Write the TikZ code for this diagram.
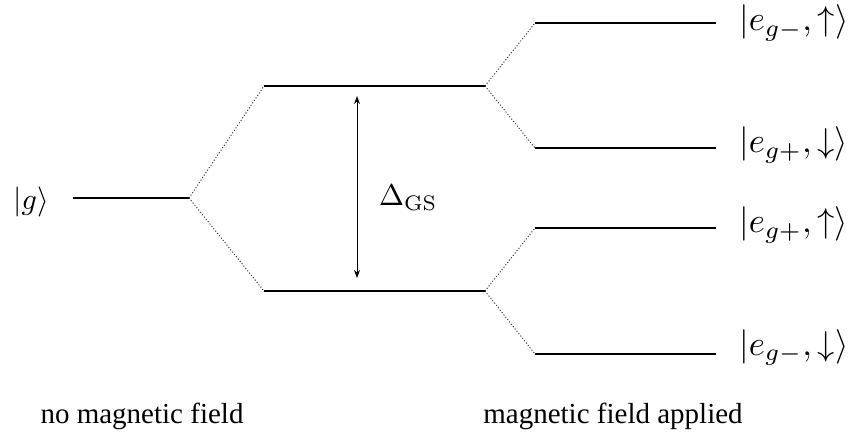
\documentclass[tikz,border=0pt]{standalone}
\usepackage[no-math]{fontspec}
\setmainfont{Liberation Serif}
\usepackage{graphicx}
\usetikzlibrary{arrows.meta}
\newcommand{\bigmath}[1]{\scalebox{3}{$#1$}}
\newcommand{\hugemath}[1]{\scalebox{3.45}{$#1$}}
\begin{document}
\begin{tikzpicture}[x=1pt,y=-1pt,
  level/.style={line width=2.6pt},
  split/.style={line width=1pt, dotted, black!80},
  gap/.style={line width=1pt, {Stealth[length=8pt,width=6pt]}-{Stealth[length=8pt,width=6pt]}},
  statelab/.style={anchor=base west, inner sep=0pt},
  caption/.style={anchor=base, inner sep=0pt, font=\fontsize{29}{34}\selectfont}]
\useasboundingbox (0,0) rectangle (848,435);
% ground level
\coordinate (gL) at (73,198);
\coordinate (gR) at (189,198);
% split levels
\coordinate (uL) at (264,86);
\coordinate (uR) at (485,86);
\coordinate (lL) at (264,291);
\coordinate (lR) at (485,291);
% Zeeman levels
\coordinate (aL) at (535,23);  \coordinate (aR) at (716,23);
\coordinate (bL) at (535,148); \coordinate (bR) at (716,148);
\coordinate (cL) at (535,228); \coordinate (cR) at (716,228);
\coordinate (dL) at (535,354); \coordinate (dR) at (716,354);
\foreach \p in {g,u,l,a,b,c,d} \draw[level] (\p L) -- (\p R);
\draw[split] (gR) -- (uL);
\draw[split] (gR) -- (lL);
\draw[split] (uR) -- (aL);
\draw[split] (uR) -- (bL);
\draw[split] (lR) -- (cL);
\draw[split] (lR) -- (dL);
% gap arrow
\coordinate (arT) at (357,96);
\coordinate (arB) at (357,278);
\draw[gap] (arT) -- (arB);
\node[anchor=west, inner sep=0pt] (dgs) at (379,198) {\bigmath{\Delta_{\mathrm{GS}}}};
% labels
\node[anchor=base east, inner sep=0pt] (glab) at (49,210) {\bigmath{|g\rangle}};
\node[statelab] (alab) at (739,31) {\hugemath{|e_{g-},\uparrow\rangle}};
\node[statelab] (blab) at (739,153) {\hugemath{|e_{g+},\downarrow\rangle}};
\node[statelab] (clab) at (739,233) {\hugemath{|e_{g+},\uparrow\rangle}};
\node[statelab] (dlab) at (739,355) {\hugemath{|e_{g-},\downarrow\rangle}};
\node[caption] (cap1) at (142,423) {no magnetic field};
\node[caption] (cap2) at (613,423) {magnetic field applied};
\end{tikzpicture}
\end{document}
